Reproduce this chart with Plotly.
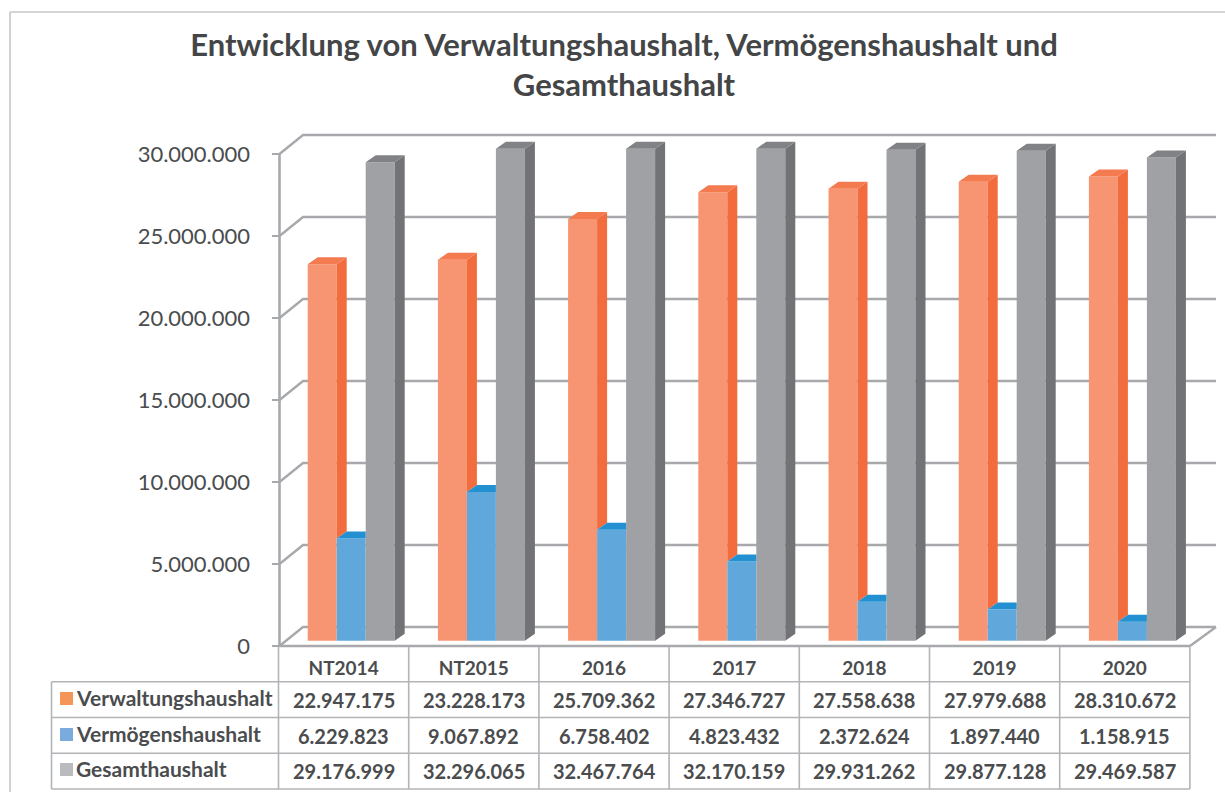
import plotly.graph_objects as go

categories = ["NT2014", "NT2015", "2016", "2017", "2018", "2019", "2020"]
verwaltung = [22947175, 23228173, 25709362, 27346727, 27558638, 27979688, 28310672]
vermoegen = [6229823, 9067892, 6758402, 4823432, 2372624, 1897440, 1158915]
gesamt = [29176999, 32296065, 32467764, 32170159, 29931262, 29877128, 29469587]
tick_values = [0, 5000000, 10000000, 15000000, 20000000, 25000000, 30000000]
series_names = ["Verwaltungshaushalt", "Vermögenshaushalt", "Gesamthaushalt"]
title_text = "Entwicklung von Verwaltungshaushalt, Vermögenshaushalt und<br>Gesamthaushalt"

W, H = 1225, 792
FONT = "Lato"
TXT = "#4a4c4e"
GRID = "#a7a9ac"
TABLE = "#b3b4b7"
AXIS_MAX = tick_values[-1]

# pixel geometry of the pseudo-3D projection
PX_CAT = 130.2        # width of one category
CAT0 = 351.2          # pixel x of the first bar group centre
PX_PER_UNIT = 82 / 5000000
BAR_BASE_Y = 640.7    # pixel y of value 0 on the bars' plane
FRONT_BASE_Y = 646    # pixel y of value 0 on the front wall
BAR_DX, BAR_DY = 10 / PX_CAT, 7 / PX_PER_UNIT
WALL_DY = 19 / PX_PER_UNIT
BARGAP = 1 - 87 / PX_CAT
BW = (1 - BARGAP) / 3
COL_SHIFT = -7.6 / PX_CAT


def X(px):
    return (px - CAT0) / PX_CAT


def px_x(px):
    return px / W


def px_y(py):
    return 1 - py / H


def polys(shapes):
    xs, ys = [], []
    for pts in shapes:
        for a, b in pts:
            xs.append(a)
            ys.append(b)
        xs.append(None)
        ys.append(None)
    return xs, ys


def face(shapes, color, axis, name):
    xs, ys = polys(shapes)
    return go.Scatter(x=xs, y=ys, mode="lines", fill="toself", fillcolor=color,
                      line=dict(width=0, color=color), yaxis=axis, name=name,
                      hoverinfo="skip", showlegend=False)


fig = go.Figure()

# walls: front axis, gridlines and floor on the frame axis
grid_x, grid_y = [], []
for v in tick_values:
    grid_x += [X(279.5), X(303), X(1216), None]
    grid_y += [v, v + WALL_DY, v + WALL_DY, None]
grid_x += [X(1216), X(1190), None]
grid_y += [WALL_DY, 0, None]
fig.add_trace(go.Scatter(x=grid_x, y=grid_y, mode="lines", yaxis="y", name="Gitter",
                         line=dict(color=GRID, width=2.4), hoverinfo="skip", showlegend=False))
fig.add_trace(go.Scatter(x=[X(279.5), X(279.5), None, X(279.5), X(1190)],
                         y=[AXIS_MAX, 0, None, 0, 0], mode="lines", yaxis="y", name="Achse",
                         line=dict(color=GRID, width=2.6), hoverinfo="skip", showlegend=False))

# bar front faces
idx = list(range(len(categories)))
gesamt_shown = [min(v, AXIS_MAX) for v in gesamt]
front_colors = ["#f79572", "#60a8dc", "#a0a1a5"]
for name, vals, col in zip(series_names, [verwaltung, vermoegen, gesamt_shown], front_colors):
    fig.add_trace(go.Bar(x=idx, y=vals, name=name, yaxis="y2", marker=dict(color=col, line=dict(width=0)),
                         showlegend=False))

# bar depth faces
o_top, o_side, b_top, g_top, g_side = [], [], [], [], []
for i in idx:
    l0, l1, l2, l3 = i - 1.5 * BW, i - 0.5 * BW, i + 0.5 * BW, i + 1.5 * BW
    o, b, g = verwaltung[i], vermoegen[i], gesamt_shown[i]
    o_top.append([(l0, o), (l0 + BAR_DX, o + BAR_DY), (l1 + BAR_DX, o + BAR_DY), (l1, o), (l0, o)])
    o_side.append([(l1, o), (l1 + BAR_DX, o + BAR_DY), (l1 + BAR_DX, b + BAR_DY), (l1, b), (l1, o)])
    b_top.append([(l1, b), (l1 + BAR_DX, b + BAR_DY), (l2, b + BAR_DY), (l2, b), (l1, b)])
    g_top.append([(l2, g), (l2 + BAR_DX, g + BAR_DY), (l3 + BAR_DX, g + BAR_DY), (l3, g), (l2, g)])
    g_side.append([(l3, g), (l3 + BAR_DX, g + BAR_DY), (l3 + BAR_DX, BAR_DY), (l3, 0), (l3, g)])
fig.add_trace(face(o_side, "#f26c3e", "y2", "Verwaltungshaushalt Seite"))
fig.add_trace(face(o_top, "#f47a50", "y2", "Verwaltungshaushalt Deckfläche"))
fig.add_trace(face(b_top, "#2391d1", "y2", "Vermögenshaushalt Deckfläche"))
fig.add_trace(face(g_side, "#727376", "y2", "Gesamthaushalt Seite"))
fig.add_trace(face(g_top, "#808285", "y2", "Gesamthaushalt Deckfläche"))

# data table
shapes = []
table_rows = [681.7, 717.5, 753.3, 789]
col_lines = [278.5 + PX_CAT * i for i in range(len(categories) + 1)]
for j, y in enumerate(table_rows):
    shapes.append(dict(type="line", xref="paper", yref="paper", x0=px_x(51.5), x1=px_x(col_lines[-1]),
                       y0=px_y(y), y1=px_y(y), line=dict(color=TABLE, width=1.6)))
shapes.append(dict(type="line", xref="paper", yref="paper", x0=px_x(51.5), x1=px_x(51.5),
                   y0=px_y(table_rows[0]), y1=px_y(table_rows[-1]), line=dict(color=TABLE, width=1.6)))
for c in col_lines:
    shapes.append(dict(type="line", xref="paper", yref="paper", x0=px_x(c), x1=px_x(c),
                       y0=px_y(647), y1=px_y(table_rows[-1]), line=dict(color=TABLE, width=1.6)))
# outer frame of the chart
shapes.append(dict(type="line", xref="paper", yref="paper", x0=px_x(10), x1=px_x(10),
                   y0=px_y(12), y1=0, line=dict(color="#c6c7c9", width=1.6)))
shapes.append(dict(type="line", xref="paper", yref="paper", x0=px_x(10), x1=1,
                   y0=px_y(12), y1=px_y(12), line=dict(color="#c6c7c9", width=1.6)))

annotations = []
row_centers = [699.5, 735.5, 771]
label_centers = [697, 733, 768]
key_colors = ["#f59558", "#7aabdc", "#babbbe"]
for name, vals, yc, yl, key in zip(series_names, [verwaltung, vermoegen, gesamt],
                                   row_centers, label_centers, key_colors):
    shapes.append(dict(type="rect", xref="paper", yref="paper", x0=px_x(60), x1=px_x(73),
                       y0=px_y(yl + 8), y1=px_y(yl - 5), fillcolor=key, line=dict(width=0)))
    annotations.append(dict(xref="paper", yref="paper", x=px_x(74), y=px_y(yl), text=f"<b>{name}</b>",
                            showarrow=False, xanchor="left", yanchor="middle",
                            font=dict(family=FONT, size=21, color=TXT)))
    for i, v in enumerate(vals):
        annotations.append(dict(xref="x", yref="paper", x=i + COL_SHIFT, y=px_y(yc),
                                text="<b>" + f"{v:,d}".replace(",", ".") + "</b>",
                                showarrow=False, xanchor="center", yanchor="middle",
                                font=dict(family=FONT, size=20, color=TXT)))

fig.update_layout(
    width=W, height=H, margin=dict(l=0, r=0, t=0, b=0), autosize=False,
    paper_bgcolor="white", plot_bgcolor="rgba(0,0,0,0)",
    separators=",.", barmode="group", bargap=BARGAP, bargroupgap=0,
    title=dict(text=title_text, x=624 / W, xanchor="center", y=px_y(56), yanchor="top",
               font=dict(family=FONT, size=31, color="#434547", weight="bold")),
    xaxis=dict(domain=[0, 1], range=[X(0), X(W)], anchor="free", position=px_y(647),
               tickmode="array", tickvals=[i + COL_SHIFT for i in idx], ticktext=[f"<b>{c}</b>" for c in categories],
               ticks="", showgrid=False, zeroline=False, showline=False, ticklabelstandoff=8,
               tickfont=dict(family=FONT, size=19, color=TXT)),
    yaxis=dict(domain=[0, 1],
               range=[(FRONT_BASE_Y - H) / PX_PER_UNIT, FRONT_BASE_Y / PX_PER_UNIT],
               anchor="free", position=279.5 / W, side="left",
               tickmode="array", tickvals=tick_values, tickformat=",d", ticks="outside", ticklen=8,
               tickwidth=2, tickcolor=GRID, ticklabelstandoff=17,
               showgrid=False, zeroline=False, showline=False,
               tickfont=dict(family=FONT, size=22, color=TXT)),
    yaxis2=dict(overlaying="y", anchor="x", side="left", visible=False,
                range=[(BAR_BASE_Y - H) / PX_PER_UNIT, BAR_BASE_Y / PX_PER_UNIT]),
    shapes=shapes, annotations=annotations, showlegend=False,
)

fig.write_html("out.html", config=dict(displayModeBar=False), post_script="document.body.style.margin='0';")
